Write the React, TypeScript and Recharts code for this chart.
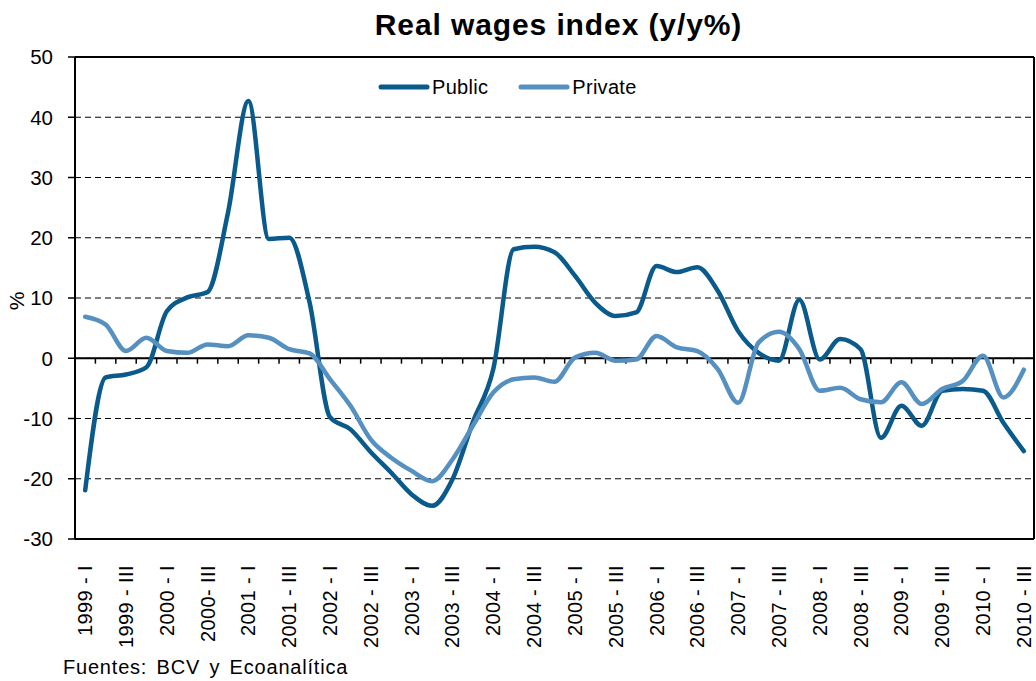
import { CartesianGrid, Line, LineChart, ReferenceLine, XAxis, YAxis } from "recharts";

const YEARS = [1999, 2000, 2001, 2002, 2003, 2004, 2005, 2006, 2007, 2008, 2009, 2010];
const ROMAN = ["I", "II", "III", "IV"];
// 1999-I .. 2010-III, quarterly
const QUARTERS = YEARS.flatMap((y) => ROMAN.map((r) => `${y} - ${r}`)).slice(0, 47);

// only every other quarter is labelled (I and III)
const TICK_LABELS = [
  "1999 - I", "1999 - III", "2000 - I", "2000- III", "2001 - I", "2001 - III",
  "2002 - I", "2002 - III", "2003 - I", "2003 - III", "2004 - I", "2004 - III",
  "2005 - I", "2005 - III", "2006 - I", "2006 - III", "2007 - I", "2007 - III",
  "2008 - I", "2008 - III", "2009 - I", "2009 - III", "2010 - I", "2010 - III",
];

const PUBLIC = [
  -21.9, -3.2, -2.7, -1.5, 7.8, 10.1, 11, 24.2, 42.7, 19.8, 20, 9.2,
  -9.8, -11.8, -15.6, -19, -22.6, -24.5, -20.1, -10.6, -1.8, 18.1, 18.5, 17.6,
  13.7, 9.2, 7.0, 7.6, 15.3, 14.3, 15.1, 11.2, 4.5, 0.9, -0.4, 9.7,
  -0.2, 3.2, 1.5, -13.2, -7.9, -11.2, -5.4, -5.1, -5.4, -10.7, -15.4,
];

const PRIVATE = [
  6.9, 5.6, 1.2, 3.4, 1.2, 0.9, 2.3, 2.0, 3.8, 3.4, 1.5, 0.8,
  -3.5, -7.9, -13.5, -16.5, -18.7, -20.4, -16.8, -11.2, -5.7, -3.5, -3.2, -3.9,
  0.1, 0.9, -0.4, -0.2, 3.7, 1.8, 1.2, -1.8, -7.4, 2.6, 4.4, 1.5,
  -5.4, -4.9, -6.8, -7.3, -4.0, -7.6, -5.1, -3.8, 0.4, -6.5, -1.9,
];

const Y_TICKS = [-30, -20, -10, 0, 10, 20, 30, 40, 50];

const SERIES = [
  { key: "public", name: "Public", color: "#0a5a8b" },
  { key: "private", name: "Private", color: "#5590c0" },
];

const FONT = "'Liberation Sans', Arial, sans-serif";

const data = QUARTERS.map((q, i) => ({
  i,
  quarter: q,
  public: PUBLIC[i],
  private: PRIVATE[i],
}));

const xTicks = TICK_LABELS.map((_, k) => k * 2);
// little marks on the zero line sit between categories
const boundaries = QUARTERS.slice(1).map((_, k) => k + 0.5);

function XTick({ x, y, payload }: any) {
  return (
    <text
      x={x}
      y={y}
      transform={`rotate(-90, ${x}, ${y})`}
      textAnchor="end"
      dy="0.35em"
      fontSize={20}
      fontFamily={FONT}
      letterSpacing={0.4}
      fill="#000"
    >
      {TICK_LABELS[payload.value / 2]}
    </text>
  );
}

export default function App() {
  return (
    <div style={{ position: "relative", width: 1036, height: 681, background: "#fff", fontFamily: FONT }}>
      <style>{"body{margin:0}"}</style>
      <div
        style={{
          position: "absolute",
          top: 8,
          left: 79,
          width: 959,
          textAlign: "center",
          fontSize: 30,
          fontWeight: "bold",
          letterSpacing: 0.9,
        }}
      >
        Real wages index (y/y%)
      </div>

      <LineChart
        width={1036}
        height={681}
        data={data}
        margin={{ top: 57, right: 2, bottom: 12, left: 0 }}
      >
        <CartesianGrid
          horizontal
          vertical={false}
          stroke="#000"
          strokeWidth={1.2}
          strokeDasharray="6 4"
        />
        <XAxis
          dataKey="i"
          type="number"
          domain={[-0.5, 46.5]}
          ticks={xTicks}
          interval={0}
          height={130}
          tickLine={false}
          tickMargin={20}
          axisLine={{ stroke: "#000", strokeWidth: 2 }}
          tick={<XTick />}
        />
        <YAxis
          type="number"
          domain={[-30, 50]}
          ticks={Y_TICKS}
          width={75}
          tickSize={7}
          tickMargin={15}
          tickLine={{ stroke: "#000", strokeWidth: 1.5 }}
          axisLine={{ stroke: "#000", strokeWidth: 2 }}
          tick={{ fontSize: 20.5, fill: "#000", fontFamily: FONT }}
        />
        <ReferenceLine y={50} stroke="#000" strokeWidth={2} />
        <ReferenceLine x={46.5} stroke="#000" strokeWidth={2} />
        <ReferenceLine y={0} stroke="#000" strokeWidth={2} />
        {boundaries.map((b) => (
          <ReferenceLine
            key={b}
            segment={[
              { x: b, y: 0 },
              { x: b, y: -0.9 },
            ]}
            stroke="#000"
            strokeWidth={1.5}
          />
        ))}
        {SERIES.map((s) => (
          <Line
            key={s.key}
            name={s.name}
            dataKey={s.key}
            type="monotone"
            stroke={s.color}
            strokeWidth={4.5}
            strokeLinecap="round"
            strokeLinejoin="round"
            dot={false}
            activeDot={false}
            isAnimationActive={false}
          />
        ))}
      </LineChart>

      <div
        style={{
          position: "absolute",
          left: 8,
          top: 301,
          transform: "translate(0, -50%) rotate(-90deg)",
          fontSize: 21,
        }}
      >
        %
      </div>

      <div
        style={{
          position: "absolute",
          top: 74,
          left: 378,
          display: "flex",
          alignItems: "center",
          fontSize: 20,
        }}
      >
        {SERIES.map((s, k) => (
          <div key={s.key} style={{ display: "flex", alignItems: "center", marginRight: k === 0 ? 30 : 0 }}>
            <svg width={52} height={26}>
              <line x1={3} y1={13} x2={49} y2={13} stroke={s.color} strokeWidth={5} strokeLinecap="round" />
            </svg>
            <span style={{ marginLeft: 2, letterSpacing: 0.3 }}>{s.name}</span>
          </div>
        ))}
      </div>

      <div
        style={{
          position: "absolute",
          left: 63,
          top: 656,
          fontSize: 20,
          letterSpacing: 0.8,
          wordSpacing: 3,
        }}
      >
        Fuentes: BCV y Ecoanalítica
      </div>
    </div>
  );
}
